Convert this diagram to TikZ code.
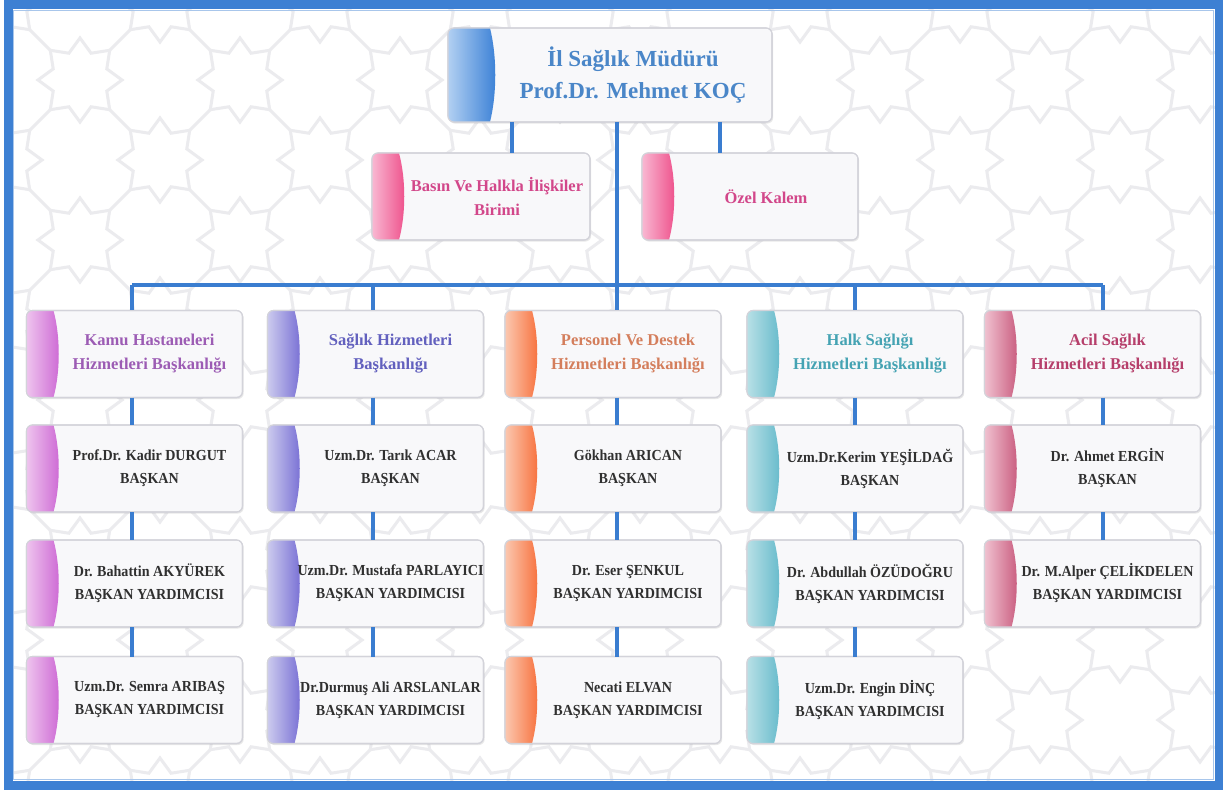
\documentclass[tikz,border=0pt]{standalone}
\usepackage{fontspec}
\setmainfont{Liberation Serif}
\newfontfamily\narrowserif{Liberation Serif}[FakeStretch=0.92]
\usetikzlibrary{shadows,calc}

% palette: A = light side of the tab, B = dark side of the tab, T = title text
\definecolor{linkblue}{HTML}{3A7DD0}
\definecolor{framecol}{HTML}{3D80D3}
\definecolor{boxfill}{HTML}{F8F8FA}
\definecolor{boxedge}{HTML}{D3D3DA}
\definecolor{bgline}{HTML}{EBEBEE}
\definecolor{persontxt}{HTML}{303030}
\definecolor{topA}{HTML}{B2D0F2}\definecolor{topB}{HTML}{3A80D6}\definecolor{topT}{HTML}{4A86C8}
\definecolor{pinkA}{HTML}{F9B8D2}\definecolor{pinkB}{HTML}{EE4F8A}\definecolor{pinkT}{HTML}{D2478A}
\definecolor{kamuA}{HTML}{EEC4EE}\definecolor{kamuB}{HTML}{CD68D4}\definecolor{kamuT}{HTML}{9C5CB4}
\definecolor{shdA}{HTML}{CCCBEE}\definecolor{shdB}{HTML}{776ED4}\definecolor{shdT}{HTML}{6260BE}
\definecolor{pdhA}{HTML}{FBC8B0}\definecolor{pdhB}{HTML}{F7703C}\definecolor{pdhT}{HTML}{D47E5C}
\definecolor{hshA}{HTML}{B8E0E6}\definecolor{hshB}{HTML}{66BACB}\definecolor{hshT}{HTML}{45A3B3}
\definecolor{ashA}{HTML}{F0C2D0}\definecolor{ashB}{HTML}{C95B7E}\definecolor{ashT}{HTML}{B63F6B}

\tikzset{
  orgbox/.style={draw=boxedge, line width=1.1pt, fill=boxfill, rounded corners=6pt,
    inner sep=0pt, outer sep=0pt,
    drop shadow={opacity=0.18, shadow xshift=1.2pt, shadow yshift=-1.6pt}},
  boxrim/.style={draw=boxedge, line width=1.1pt, rounded corners=6pt},
  colsize/.style={minimum width=216pt, minimum height=87pt},
  link/.style={draw=linkblue, line width=3.8pt},
  toptext/.style={font={\bfseries\fontsize{23}{32}\selectfont}, align=center, text=topT},
  headtext/.style={font={\bfseries\fontsize{16.5}{24}\selectfont}, align=center},
  persontext/.style={font={\narrowserif\bfseries\fontsize{15.3}{23}\selectfont}, align=center, text=persontxt},
  patline/.style={draw=bgline, line width=3pt},
}

% coloured tab inside box #1 (palette #2, width #3): light on the left,
% dark towards its right edge, which is bowed outwards
\newcommand\boxtab[3]{%
  \begin{scope}
    \clip[rounded corners=6pt] (#1.north west) rectangle (#1.south east);
    \shade[left color=#2A, right color=#2B]
      (#1.north west) -- ([xshift=#3]#1.north west)
      .. controls ($(#1.north west)!0.3!(#1.south west)+(#3+7,0)$)
         and ($(#1.north west)!0.7!(#1.south west)+(#3+7,0)$) ..
      ([xshift=#3]#1.south west) -- (#1.south west) -- cycle;
  \end{scope}
  \draw[boxrim] (#1.north west) rectangle (#1.south east);}

% #1 name, #2 centre, #3 palette, #4 text style, #5 text
\newcommand\unitbox[5]{%
  \node[orgbox, colsize] (#1) at (#2) {};
  \boxtab{#1}{#3}{27}
  \node[#4] (#1-t) at ([xshift=15]#1.center) {#5};}

\begin{document}
\begin{tikzpicture}[x=1pt, y=-1pt]
\useasboundingbox (0,0) rectangle (1223,791);
\fill[white] (0,0) rectangle (1223,791);

% faint geometric background: diagonal lattice with eight-pointed stars at the crossings
\begin{scope}
  \clip (12,9) rectangle (1215,781);
  \foreach \c in {-960,-800,...,1440}
    \draw[patline] (\c-100,-100) -- (\c+900,900);
  \foreach \c in {-160,0,...,2400}
    \draw[patline] (\c+100,-100) -- (\c-900,900);
  \foreach \m in {0,...,16}
    \foreach \n in {0,...,11} {
      \pgfmathtruncatemacro\parity{mod(\m+\n,2)}
      \ifnum\parity=0
        \filldraw[patline, fill=white, shift={(80*\m,80*\n)}] (0:42)
          \foreach \k in {1,...,15} { -- ({\k*22.5}:{ifthenelse(mod(\k,2)==0,42,29)}) } -- cycle;
      \fi
    }
\end{scope}

% outer frame
\draw[framecol, line width=9pt] (8,5) rectangle (1219,785);
\draw[framecol!45!white, line width=1.2pt] (13.2,10.2) rectangle (1213.8,779.8);

% junction points of the connector tree
\coordinate (hub) at (617,285);
\coordinate (b1) at (132,285);
\coordinate (b2) at (373,285);
\coordinate (b3) at (617,285);
\coordinate (b4) at (855,285);
\coordinate (b5) at (1103,285);

% ---------- boxes ----------
\node[orgbox, minimum width=324pt, minimum height=94pt] (top) at (610,75) {};
\boxtab{top}{top}{42}
\node[toptext] (top-t) at ([xshift=23]top.center) {İl Sağlık Müdürü\\Prof.Dr. Mehmet KOÇ};

\node[orgbox, minimum width=218pt, minimum height=87pt] (basin) at (481,196.5) {};
\boxtab{basin}{pink}{27}
\node[headtext, text=pinkT] (basin-t) at ([xshift=16]basin.center) {Basın Ve Halkla İlişkiler\\Birimi};
\node[orgbox, minimum width=216pt, minimum height=87pt] (ozel) at (750,196.5) {};
\boxtab{ozel}{pink}{27}
\node[headtext, text=pinkT] (ozel-t) at ([xshift=16]ozel.center) {Özel Kalem};

% column 1
\unitbox{kamu}{134.5,354}{kamu}{headtext, text=kamuT}{Kamu Hastaneleri\\Hizmetleri Başkanlığı}
\unitbox{kamu1}{134.5,468.5}{kamu}{persontext}{Prof.Dr. Kadir DURGUT\\BAŞKAN}
\unitbox{kamu2}{134.5,583.5}{kamu}{persontext}{Dr. Bahattin AKYÜREK\\BAŞKAN YARDIMCISI}
\unitbox{kamu3}{134.5,700}{kamu}{persontext}{Uzm.Dr. Semra ARIBAŞ\\BAŞKAN YARDIMCISI}
% column 2
\unitbox{shd}{375.5,354}{shd}{headtext, text=shdT}{Sağlık Hizmetleri\\Başkanlığı}
\unitbox{shd1}{375.5,468.5}{shd}{persontext}{Uzm.Dr. Tarık ACAR\\BAŞKAN}
\unitbox{shd2}{375.5,583.5}{shd}{persontext}{Uzm.Dr. Mustafa PARLAYICI\\BAŞKAN YARDIMCISI}
\unitbox{shd3}{375.5,700}{shd}{persontext}{Dr.Durmuş Ali ARSLANLAR\\BAŞKAN YARDIMCISI}
% column 3
\unitbox{pdh}{613,354}{pdh}{headtext, text=pdhT}{Personel Ve Destek\\Hizmetleri Başkanlığı}
\unitbox{pdh1}{613,468.5}{pdh}{persontext}{Gökhan ARICAN\\BAŞKAN}
\unitbox{pdh2}{613,583.5}{pdh}{persontext}{Dr. Eser ŞENKUL\\BAŞKAN YARDIMCISI}
\unitbox{pdh3}{613,700}{pdh}{persontext}{Necati ELVAN\\BAŞKAN YARDIMCISI}
% column 4
\unitbox{hsh}{855,354}{hsh}{headtext, text=hshT}{Halk Sağlığı\\Hizmetleri Başkanlığı}
\unitbox{hsh1}{855,468.5}{hsh}{persontext}{Uzm.Dr.Kerim YEŞİLDAĞ\\BAŞKAN}
\unitbox{hsh2}{855,583.5}{hsh}{persontext}{Dr. Abdullah ÖZÜDOĞRU\\BAŞKAN YARDIMCISI}
\unitbox{hsh3}{855,700}{hsh}{persontext}{Uzm.Dr. Engin DİNÇ\\BAŞKAN YARDIMCISI}
% column 5
\unitbox{ash}{1092.5,354}{ash}{headtext, text=ashT}{Acil Sağlık\\Hizmetleri Başkanlığı}
\unitbox{ash1}{1092.5,468.5}{ash}{persontext}{Dr. Ahmet ERGİN\\BAŞKAN}
\unitbox{ash2}{1092.5,583.5}{ash}{persontext}{Dr. M.Alper ÇELİKDELEN\\BAŞKAN YARDIMCISI}

% ---------- connectors ----------
\draw[link] (top.south -| hub) -- (hub);
\draw[link] ([xshift=31]basin.north |- top.south) -- ([xshift=31]basin.north);
\draw[link] ([xshift=-30]ozel.north |- top.south) -- ([xshift=-30]ozel.north);
\draw[link] (b1) -- (b5);
\draw[link] (b1) -- (kamu.north -| b1);
\draw[link] (b2) -- (shd.north -| b2);
\draw[link] (b3) -- (pdh.north -| b3);
\draw[link] (b4) -- (hsh.north -| b4);
\draw[link] (b5) -- (ash.north -| b5);
\draw[link] (kamu.south -| b1) -- (kamu1.north -| b1);
\draw[link] (kamu1.south -| b1) -- (kamu2.north -| b1);
\draw[link] (kamu2.south -| b1) -- (kamu3.north -| b1);
\draw[link] (shd.south -| b2) -- (shd1.north -| b2);
\draw[link] (shd1.south -| b2) -- (shd2.north -| b2);
\draw[link] (shd2.south -| b2) -- (shd3.north -| b2);
\draw[link] (pdh.south -| b3) -- (pdh1.north -| b3);
\draw[link] (pdh1.south -| b3) -- (pdh2.north -| b3);
\draw[link] (pdh2.south -| b3) -- (pdh3.north -| b3);
\draw[link] (hsh.south -| b4) -- (hsh1.north -| b4);
\draw[link] (hsh1.south -| b4) -- (hsh2.north -| b4);
\draw[link] (hsh2.south -| b4) -- (hsh3.north -| b4);
\draw[link] (ash.south -| b5) -- (ash1.north -| b5);
\draw[link] (ash1.south -| b5) -- (ash2.north -| b5);
\end{tikzpicture}
\end{document}
